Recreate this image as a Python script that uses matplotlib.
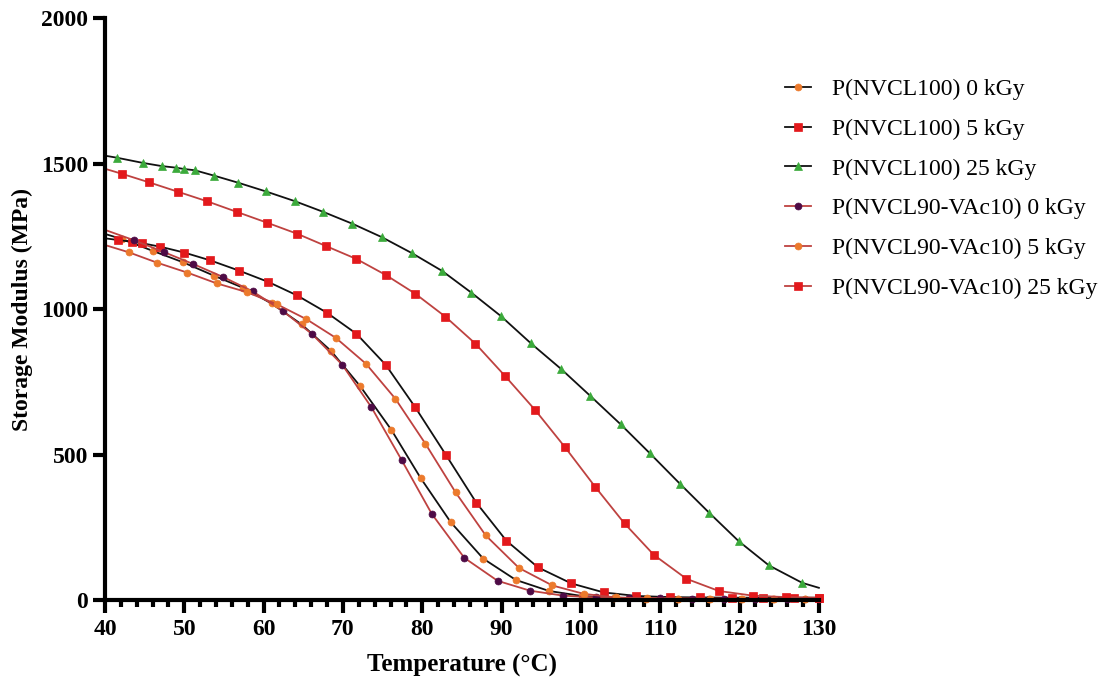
import matplotlib
matplotlib.use("Agg")
import matplotlib.pyplot as plt
from matplotlib.ticker import MultipleLocator

plt.rcParams["font.family"] = ["Liberation Serif", "DejaVu Serif"]

# Temperature sweeps (°C) and storage modulus (MPa) for each sample.
# The first point of every sweep sits on the 40 °C axis and carries no marker.
t_nvcl100_0 = [40, 42.2, 46.1, 49.9, 53.7, 57.4, 61.0, 64.8, 68.5, 72.2, 76.1, 79.8,
               83.6, 87.7, 91.8, 96.0, 100.1, 104.2, 108.2, 112.2, 116.2, 120.2, 124.2, 128.2]
e_nvcl100_0 = [1258, 1240, 1199, 1160, 1115, 1073, 1019, 947, 856, 734, 585, 419,
               267, 142, 69, 31, 14, 7, 5, 4, 3, 3, 3, 3]

t_nvcl100_5 = [40, 41.7, 43.4, 44.7, 47.0, 50.0, 53.3, 56.9, 60.6, 64.2, 68.0, 71.7,
               75.4, 79.1, 83.0, 86.8, 90.6, 94.6, 98.8, 102.9, 107.0, 111.2, 115.0,
               119.0, 123.0, 126.8, 130.0]
e_nvcl100_5 = [1243, 1237, 1231, 1226, 1214, 1194, 1167, 1132, 1093, 1047, 987, 915,
               808, 663, 498, 335, 204, 112, 57, 26, 14, 10, 9, 8, 8, 8, 8]

t_nvcl100_25 = [40, 41.5, 44.8, 47.2, 48.9, 50.0, 51.3, 53.8, 56.8, 60.3, 63.9, 67.5,
                71.2, 74.9, 78.7, 82.5, 86.2, 89.9, 93.7, 97.5, 101.2, 105.0, 108.7,
                112.5, 116.2, 119.9, 123.7, 127.9, 130.0]
e_nvcl100_25 = [1527, 1520, 1502, 1491, 1486, 1481, 1477, 1458, 1434, 1404, 1371, 1334,
                1293, 1247, 1192, 1131, 1056, 976, 882, 794, 701, 604, 504,
                399, 299, 202, 119, 59, 42]

t_vac10_0 = [40, 43.7, 47.4, 51.1, 54.9, 58.6, 62.4, 66.1, 69.9, 73.6, 77.4, 81.2,
             85.3, 89.5, 93.6, 97.8, 101.9, 106.0, 110.0, 114.0, 118.0, 122.0, 126.0, 130.0]
e_vac10_0 = [1272, 1236, 1196, 1155, 1110, 1061, 994, 914, 809, 662, 481, 296,
             145, 66, 32, 15, 9, 7, 6, 5, 5, 4, 4, 4]

t_vac10_5 = [40, 43.0, 46.6, 50.4, 54.1, 57.9, 61.7, 65.4, 69.1, 72.9, 76.6, 80.4,
             84.2, 88.0, 92.2, 96.4, 100.4, 104.4, 108.3, 112.3, 116.3, 120.3, 124.3, 128.3]
e_vac10_5 = [1220, 1195, 1159, 1125, 1088, 1058, 1016, 965, 901, 812, 692, 537,
             370, 222, 110, 50, 21, 9, 6, 5, 4, 4, 4, 4]

t_vac10_25 = [40, 42.1, 45.6, 49.2, 52.9, 56.6, 60.4, 64.2, 67.9, 71.7, 75.4, 79.1,
              82.9, 86.7, 90.4, 94.2, 98.0, 101.8, 105.5, 109.2, 113.3, 117.4, 121.7,
              125.8, 130.0]
e_vac10_25 = [1482, 1465, 1435, 1403, 1370, 1334, 1297, 1259, 1216, 1172, 1117, 1053,
              974, 881, 771, 654, 525, 389, 263, 155, 73, 31, 15, 10, 8]

labels = ["P(NVCL100) 0 kGy", "P(NVCL100) 5 kGy", "P(NVCL100) 25 kGy",
          "P(NVCL90-VAc10) 0 kGy", "P(NVCL90-VAc10) 5 kGy", "P(NVCL90-VAc10) 25 kGy"]

x_ticks = [40, 50, 60, 70, 80, 90, 100, 110, 120, 130]
y_ticks = [0, 500, 1000, 1500, 2000]

ORANGE = "#EC7A2C"
RED = "#E3191C"
GREEN = "#3BAA3B"
PURPLE = "#4E0B46"
BLACK = "#111111"
BROWNRED = "#BE4240"

series = [
    (t_nvcl100_0, e_nvcl100_0, BLACK, ORANGE, "o", 5.0, slice(1, None)),
    (t_nvcl100_5, e_nvcl100_5, BLACK, RED, "s", 5.5, slice(1, None)),
    (t_nvcl100_25, e_nvcl100_25, BLACK, GREEN, "^", 5.5, slice(1, -1)),
    (t_vac10_0, e_vac10_0, BROWNRED, PURPLE, "o", 5.0, slice(1, None)),
    (t_vac10_5, e_vac10_5, BROWNRED, ORANGE, "o", 5.0, slice(1, None)),
    (t_vac10_25, e_vac10_25, BROWNRED, RED, "s", 5.5, slice(1, None)),
]

fig = plt.figure(figsize=(11.19, 6.80), dpi=100)
ax = fig.add_axes([0.0938, 0.1176, 0.6380, 0.8559])

handles = []
for (t, e, lc, mc, mk, ms, every), lab in zip(series, labels):
    h, = ax.plot(t, e, color=lc, lw=1.3, marker=mk, markersize=ms,
                 markerfacecolor=mc, markeredgecolor=mc, markeredgewidth=0.5,
                 markevery=every, label=lab, clip_on=False, zorder=3)
    handles.append(h)

ax.set_xlim(40, 130)
ax.set_ylim(0, 2000)
ax.set_xticks(x_ticks)
ax.set_yticks(y_ticks)
ax.xaxis.set_minor_locator(MultipleLocator(2))

for side in ("top", "right"):
    ax.spines[side].set_visible(False)
for side in ("left", "bottom"):
    ax.spines[side].set_linewidth(3.0)
    ax.spines[side].set_zorder(4)

ax.tick_params(axis="both", which="major", direction="out", length=9, width=3,
               labelsize=17)
ax.tick_params(axis="x", which="major", pad=5)
ax.tick_params(axis="y", which="major", pad=3)
ax.tick_params(axis="x", which="minor", direction="out", length=5, width=3)
for lbl in ax.get_xticklabels() + ax.get_yticklabels():
    lbl.set_fontweight("bold")

ax.set_xlabel("Temperature (°C)", fontsize=18, fontweight="bold", labelpad=10)
ax.set_ylabel("Storage Modulus (MPa)", fontsize=17, fontweight="bold", labelpad=6)

fig.legend(handles=handles, labels=labels, loc="upper left",
           bbox_to_anchor=(0.693, 0.898), frameon=False, fontsize=17,
           handlelength=1.1, handletextpad=0.9, labelspacing=0.77,
           borderaxespad=0)

fig.savefig("out.png", dpi=100)
